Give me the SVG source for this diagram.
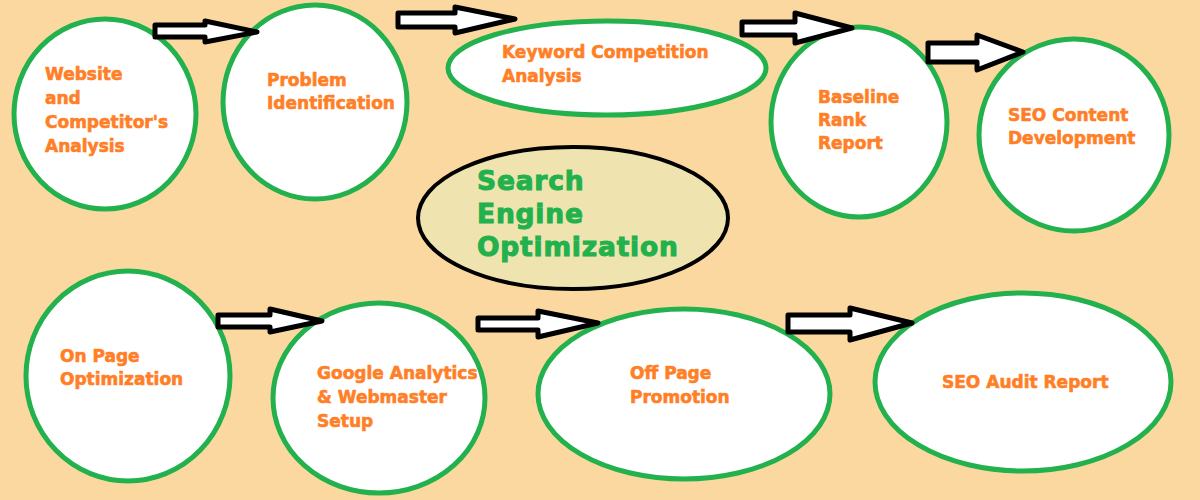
<svg xmlns="http://www.w3.org/2000/svg" width="1200" height="500" viewBox="0 0 1200 500">
<style>
.n{fill:#ffffff;stroke:#22b14c;stroke-width:5}
.c{fill:#efe4b0;stroke:#000000;stroke-width:4}
.t{font-family:"DejaVu Sans",Verdana,sans-serif;font-weight:bold;font-size:17px;fill:#ff7f27;stroke:#ff7f27;stroke-width:0.6px}
.ct{font-family:"DejaVu Sans",Verdana,sans-serif;font-weight:bold;font-size:26.5px;fill:#22b14c;stroke:#22b14c;stroke-width:1px;letter-spacing:0.8px}
.a{fill:#ffffff;stroke:#000000;stroke-width:5;stroke-linejoin:round}
</style>
<rect width="1200" height="500" fill="#fcd8a1"/>
<g id="n1"><ellipse class="n" cx="105" cy="114" rx="91" ry="95"/>
<text class="t" x="45"><tspan x="45" y="80">Website</tspan><tspan x="45" y="104">and</tspan><tspan x="45" y="128">Competitor's</tspan><tspan x="45" y="152">Analysis</tspan></text></g>
<g id="n2"><ellipse class="n" cx="315" cy="102" rx="92" ry="97"/>
<text class="t"><tspan x="267" y="86">Problem</tspan><tspan x="267" y="109">Identification</tspan></text></g>
<g id="n3"><ellipse class="n" cx="607" cy="68" rx="159" ry="47"/>
<text class="t"><tspan x="502" y="58">Keyword Competition</tspan><tspan x="502" y="82">Analysis</tspan></text></g>
<g id="n4"><ellipse class="n" cx="859" cy="122" rx="88" ry="95"/>
<text class="t"><tspan x="818" y="103">Baseline</tspan><tspan x="818" y="126">Rank</tspan><tspan x="818" y="149">Report</tspan></text></g>
<g id="n5"><ellipse class="n" cx="1074" cy="135" rx="95" ry="96"/>
<text class="t"><tspan x="1008" y="121">SEO Content</tspan><tspan x="1008" y="144">Development</tspan></text></g>
<g id="center"><ellipse class="c" cx="573" cy="218" rx="155" ry="71"/>
<text class="ct"><tspan x="477" y="190">Search</tspan><tspan x="477" y="223">Engine</tspan><tspan x="477" y="256">Optimization</tspan></text></g>
<g id="n6"><ellipse class="n" cx="128" cy="376" rx="102" ry="105"/>
<text class="t"><tspan x="60" y="362">On Page</tspan><tspan x="60" y="385">Optimization</tspan></text></g>
<g id="n7"><ellipse class="n" cx="379" cy="398" rx="106" ry="95"/>
<text class="t"><tspan x="317" y="379">Google Analytics</tspan><tspan x="317" y="403">&amp; Webmaster</tspan><tspan x="317" y="427">Setup</tspan></text></g>
<g id="n8"><ellipse class="n" cx="684" cy="394" rx="146" ry="85"/>
<text class="t"><tspan x="630" y="379">Off Page</tspan><tspan x="630" y="403">Promotion</tspan></text></g>
<g id="n9"><ellipse class="n" cx="1023" cy="382" rx="148" ry="89"/>
<text class="t"><tspan x="942" y="388">SEO Audit Report</tspan></text></g>
<g id="connectors">
<path class="a" d="M155,25 H205 V21 L257,32 L205,42 V37 H155 Z"/>
<path class="a" d="M398,13 H455 V7 L515,19 L455,33 V27 H398 Z"/>
<path class="a" d="M742,22 H795 V13 L852,28 L795,43 V35 H742 Z"/>
<path class="a" d="M928,43 H977 V35 L1023,52 L977,70 V62 H928 Z"/>
<path class="a" d="M218,315 H270 V309 L322,321 L270,332 V327 H218 Z"/>
<path class="a" d="M478,318 H538 V311 L598,323 L538,337 V330 H478 Z"/>
<path class="a" d="M788,315 H850 V308 L912,323 L850,340 V332 H788 Z"/>
</g>
</svg>
